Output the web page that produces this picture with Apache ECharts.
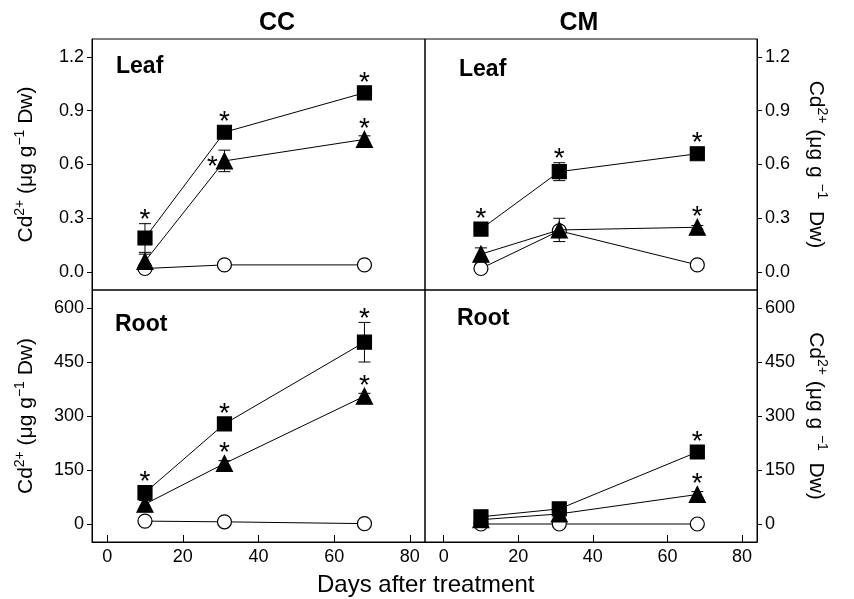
<!DOCTYPE html>
<html>
<head>
<meta charset="utf-8">
<script src="https://cdn.jsdelivr.net/npm/echarts@6/dist/echarts.min.js"></script>
<style>
  html, body { margin: 0; padding: 0; background: #fff; }
  #chart { width: 854px; height: 599px; }
</style>
</head>
<body>
<div id="chart"></div>
<script>
const days = [10, 31, 68]
const dayTicks = [0, 20, 40, 60, 80]
const leafTicks = [0, 0.3, 0.6, 0.9, 1.2]
const rootTicks = [0, 150, 300, 450, 600]

// stars: 0 none, 1 above, 2 left of the point
const ccLeafSq = [0.19, 0.78, 1.00]
const ccLeafSqErr = [0.08, 0.03, 0.015]
const ccLeafSqStar = [1, 1, 1]
const ccLeafTri = [0.06, 0.62, 0.74]
const ccLeafTriErr = [0.04, 0.06, 0.02]
const ccLeafTriStar = [0, 2, 1]
const ccLeafCirc = [0.02, 0.04, 0.04]

const cmLeafSq = [0.24, 0.56, 0.66]
const cmLeafSqErr = [0.015, 0.05, 0.03]
const cmLeafSqStar = [1, 1, 1]
const cmLeafTri = [0.10, 0.235, 0.25]
const cmLeafTriErr = [0.035, 0.065, 0.01]
const cmLeafTriStar = [0, 0, 1]
const cmLeafCirc = [0.02, 0.23, 0.04]

const ccRootSq = [87, 278, 505]
const ccRootSqErr = [12, 15, 55]
const ccRootSqStar = [1, 1, 1]
const ccRootTri = [55, 168, 355]
const ccRootTriErr = [10, 8, 8]
const ccRootTriStar = [0, 1, 1]
const ccRootCirc = [8, 6, 1]

const cmRootSq = [20, 42, 200]
const cmRootSqErr = [4, 5, 8]
const cmRootSqStar = [0, 0, 1]
const cmRootTri = [12, 28, 82]
const cmRootTriErr = [3, 4, 8]
const cmRootTriStar = [0, 0, 1]
const cmRootCirc = [0, 0, 0]

const zeros = [0, 0, 0]
const font = 'Liberation Sans, Arial, sans-serif'

function errRender (params, api) {
  const x = api.value(0)
  const y = api.value(1)
  const e = api.value(2)
  const s = api.value(3)
  const c = api.coord([x, y])
  const hi = api.coord([x, y + e])
  const lo = api.coord([x, y - e])
  const children = []
  const st = { stroke: '#000', lineWidth: 1 }
  if (e > 0) {
    children.push({ type: 'line', shape: { x1: c[0], y1: hi[1], x2: c[0], y2: lo[1] }, style: st })
    children.push({ type: 'line', shape: { x1: c[0] - 6, y1: hi[1], x2: c[0] + 6, y2: hi[1] }, style: st })
    children.push({ type: 'line', shape: { x1: c[0] - 6, y1: lo[1], x2: c[0] + 6, y2: lo[1] }, style: st })
  }
  const top = Math.min(hi[1], c[1] - 7)
  if (s === 1) {
    children.push({ type: 'text', style: { text: '*', x: c[0], y: top - 3, align: 'center', verticalAlign: 'middle', font: '28px ' + font, fill: '#000' } })
  } else if (s === 2) {
    children.push({ type: 'text', style: { text: '*', x: c[0] - 12, y: c[1] + 6, align: 'center', verticalAlign: 'middle', font: '28px ' + font, fill: '#000' } })
  }
  return { type: 'group', children }
}

const series = []
function addPanel (idx, groups) {
  groups.forEach(([vals, errs, stars, symbol, size, fill, z]) => {
    series.push({
      type: 'custom',
      xAxisIndex: idx,
      yAxisIndex: idx,
      renderItem: errRender,
      data: days.map((d, i) => [d, vals[i], errs[i], stars[i]]),
      z: 2,
      silent: true
    })
    series.push({
      type: 'line',
      xAxisIndex: idx,
      yAxisIndex: idx,
      data: days.map((d, i) => [d, vals[i]]),
      symbol,
      symbolSize: size,
      showAllSymbol: true,
      itemStyle: { color: fill, borderColor: '#000', borderWidth: 1.2 },
      lineStyle: { color: '#000', width: 1 },
      z
    })
  })
}

addPanel(0, [
  [ccLeafCirc, zeros, zeros, 'circle', 14, '#fff', 3],
  [ccLeafSq, ccLeafSqErr, ccLeafSqStar, 'rect', 14, '#000', 4],
  [ccLeafTri, ccLeafTriErr, ccLeafTriStar, 'triangle', 16, '#000', 4]
])
addPanel(1, [
  [cmLeafCirc, zeros, zeros, 'circle', 14, '#fff', 3],
  [cmLeafSq, cmLeafSqErr, cmLeafSqStar, 'rect', 14, '#000', 4],
  [cmLeafTri, cmLeafTriErr, cmLeafTriStar, 'triangle', 16, '#000', 4]
])
addPanel(2, [
  [ccRootCirc, zeros, zeros, 'circle', 14, '#fff', 3],
  [ccRootSq, ccRootSqErr, ccRootSqStar, 'rect', 14, '#000', 4],
  [ccRootTri, ccRootTriErr, ccRootTriStar, 'triangle', 16, '#000', 4]
])
addPanel(3, [
  [cmRootCirc, zeros, zeros, 'circle', 14, '#fff', 3],
  [cmRootSq, cmRootSqErr, cmRootSqStar, 'rect', 14, '#000', 4],
  [cmRootTri, cmRootTriErr, cmRootTriStar, 'triangle', 16, '#000', 4]
])

const richName = {
  m: { fontSize: 21, fontFamily: font, color: '#000', lineHeight: 26, verticalAlign: 'middle' },
  s: { fontSize: 14, fontFamily: font, color: '#000', lineHeight: 14, verticalAlign: 'top' }
}

function yAxis (idx, side, min, max, ticks, digits, gap) {
  return {
    type: 'value',
    gridIndex: idx,
    position: side,
    min,
    max,
    splitLine: { show: false },
    axisLine: { show: true, onZero: false, lineStyle: { color: '#000', width: 1 } },
    axisTick: { show: true, inside: false, length: 5, customValues: ticks, lineStyle: { color: '#000' } },
    axisLabel: {
      customValues: ticks,
      margin: 8,
      fontSize: 18,
      fontFamily: font,
      color: '#000',
      formatter: v => v.toFixed(digits)
    },
    name: side === 'left' ? '{m|Cd}{s|2+}{m| (μg g}{s|−1}{m| Dw)}' : '{m|Cd}{s|2+}{m| (μg g }{s|−1}{m|  Dw)}',
    nameLocation: 'middle',
    nameRotate: side === 'left' ? 90 : -90,
    nameGap: gap,
    nameMoveOverlap: false,
    nameTextStyle: { rich: richName }
  }
}

function xAxis (idx, min, max, visible) {
  return {
    type: 'value',
    gridIndex: idx,
    min,
    max,
    show: visible,
    splitLine: { show: false },
    axisLine: { show: true, onZero: false, lineStyle: { color: '#000', width: 1 } },
    axisTick: { show: true, inside: true, length: 7, customValues: dayTicks, lineStyle: { color: '#000' } },
    axisLabel: { customValues: dayTicks, margin: 6, fontSize: 18, fontFamily: font, color: '#000' }
  }
}

const chart = echarts.init(document.getElementById('chart'))

const gridBase = { show: true, borderColor: '#000', borderWidth: 1, containLabel: false }

chart.setOption({
  animation: false,
  backgroundColor: '#fff',
  title: [
    { text: 'CC', left: 272, top: 6, textAlign: 'center', textStyle: { fontSize: 25, fontWeight: 'bold', fontFamily: font, color: '#000' } },
    { text: 'CM', left: 574, top: 6, textAlign: 'center', textStyle: { fontSize: 25, fontWeight: 'bold', fontFamily: font, color: '#000' } }
  ],
  grid: [
    Object.assign({ left: 92, top: 39, width: 333, height: 251 }, gridBase),
    Object.assign({ left: 425, top: 39, width: 332, height: 251 }, gridBase),
    Object.assign({ left: 92, top: 290, width: 333, height: 252 }, gridBase),
    Object.assign({ left: 425, top: 290, width: 332, height: 252 }, gridBase)
  ],
  xAxis: [
    xAxis(0, -4, 84, false),
    xAxis(1, -5, 84, false),
    xAxis(2, -4, 84, true),
    xAxis(3, -5, 84, true)
  ],
  yAxis: [
    yAxis(0, 'left', -0.1, 1.3, leafTicks, 1, 53),
    yAxis(1, 'right', -0.1, 1.3, leafTicks, 1, 46),
    yAxis(2, 'left', -50, 650, rootTicks, 0, 53),
    yAxis(3, 'right', -50, 650, rootTicks, 0, 46)
  ],
  graphic: [
    { type: 'text', left: 116, top: 55, style: { text: 'Leaf', font: 'bold 23px ' + font, fill: '#000' } },
    { type: 'text', left: 459, top: 58, style: { text: 'Leaf', font: 'bold 23px ' + font, fill: '#000' } },
    { type: 'text', left: 115, top: 313, style: { text: 'Root', font: 'bold 23px ' + font, fill: '#000' } },
    { type: 'text', left: 457, top: 307, style: { text: 'Root', font: 'bold 23px ' + font, fill: '#000' } },
    { type: 'text', left: 317, top: 573, style: { text: 'Days after treatment', font: '24px ' + font, fill: '#000' } }
  ],
  series
})
</script>
</body>
</html>
